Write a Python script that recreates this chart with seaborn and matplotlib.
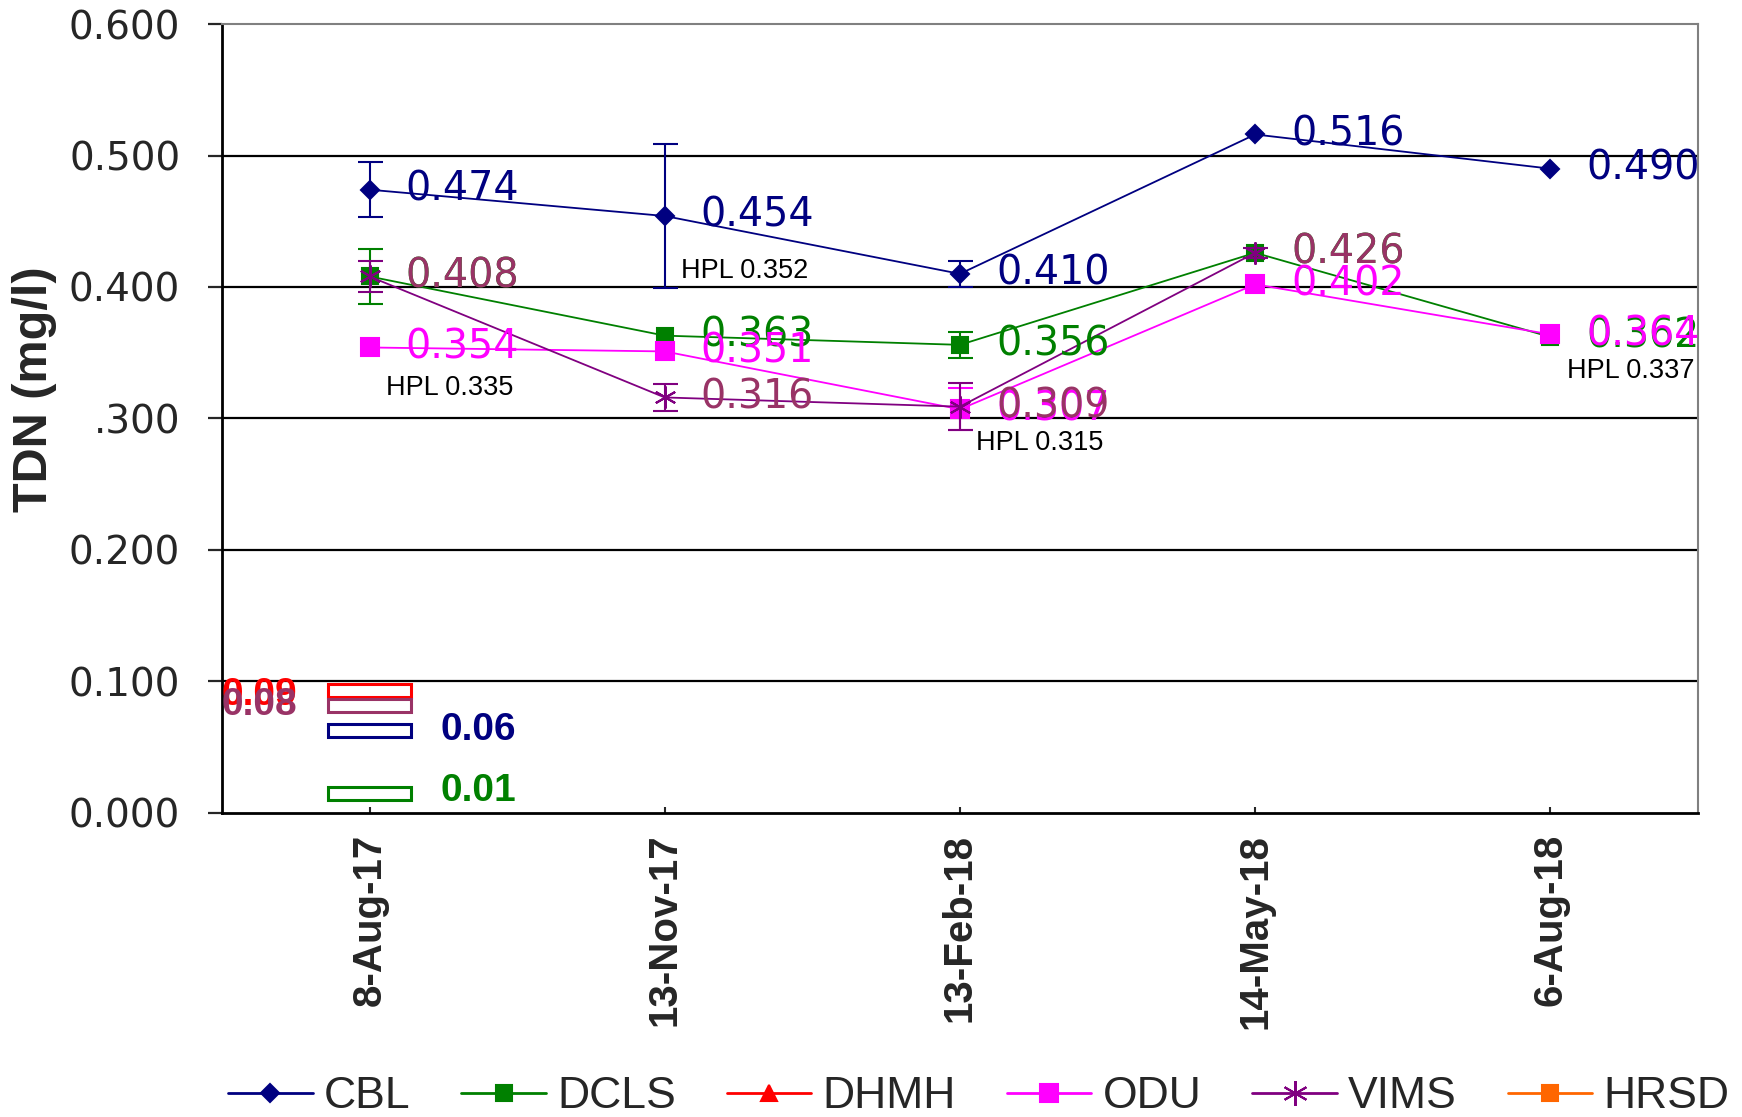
import numpy as np
import pandas as pd
import matplotlib
matplotlib.use("Agg")
import matplotlib.pyplot as plt
from matplotlib.lines import Line2D
import seaborn as sns

# dates on the x axis
dates = ["8-Aug-17", "13-Nov-17", "13-Feb-18", "14-May-18", "6-Aug-18"]

# mean TDN per lab (mg/l), nan = no sample
cbl = [0.474, 0.454, 0.410, 0.516, 0.490]
dcls = [0.408, 0.363, 0.356, 0.426, 0.362]
odu = [0.354, 0.351, 0.307, 0.402, 0.364]
vims = [0.408, 0.316, 0.309, 0.426, np.nan]

# error bar half-widths
cbl_err = [0.021, 0.055, 0.010, 0.0, 0.0]
dcls_err = [0.021, 0.0, 0.010, 0.0, 0.0]
odu_err = [0.0, 0.0, 0.016, 0.0, 0.0]
vims_err = [0.012, 0.010, 0.018, 0.004, 0.0]

# HPL notes
hpl_labels = ["HPL 0.335", "HPL 0.352", "HPL 0.315", "HPL 0.337"]
hpl_pos = [0, 1, 2, 4]
hpl_y = [0.323, 0.412, 0.281, 0.336]

# small boxes in the bottom left corner
box_labs = ["DHMH", "VIMS", "CBL", "DCLS"]
box_bottom = [0.088, 0.077, 0.058, 0.010]
box_values = [0.09, 0.08, 0.06, 0.01]

y_ticks = [0.0, 0.1, 0.2, 0.3, 0.4, 0.5, 0.6]
y_tick_labels = ["0.000", "0.100", "0.200", ".300", "0.400", "0.500", "0.600"]

colors = {"CBL": "#000080", "DCLS": "#008000", "DHMH": "#FF0000",
          "ODU": "#FF00FF", "VIMS": "#800080", "HRSD": "#FF6600"}
text_colors = {"CBL": "#000080", "DCLS": "#008000", "DHMH": "#FF0000",
               "ODU": "#FF00FF", "VIMS": "#993366"}

series = {"CBL": (cbl, cbl_err, "D", 9),
          "DCLS": (dcls, dcls_err, "s", 12),
          "ODU": (odu, odu_err, "s", 13),
          "VIMS": (vims, vims_err, (6, 2, 0), 16)}

rows = []
for lab, (vals, errs, _, _) in series.items():
    for i, v in enumerate(vals):
        rows.append({"lab": lab, "pos": i, "value": v, "err": errs[i]})
df = pd.DataFrame(rows)

sns.set_style("white")
plt.rcParams["font.family"] = ["DejaVu Sans"]

fig = plt.figure(figsize=(17.42, 11.17), dpi=100)
ax = fig.add_axes([0.1274, 0.2722, 0.8473, 0.7063])

for y in y_ticks[1:-1]:
    ax.axhline(y, color="black", lw=1.6, zorder=1)

for lab, (vals, errs, mk, ms) in series.items():
    d = df[df["lab"] == lab].dropna(subset=["value"])
    sns.lineplot(data=d, x="pos", y="value", ax=ax, color=colors[lab],
                 marker=mk, markersize=ms, markeredgecolor=colors[lab],
                 markeredgewidth=1.5, lw=1.3, zorder=3, legend=False)
    e = d[d["err"] > 0]
    ax.errorbar(e["pos"], e["value"], yerr=e["err"], fmt="none",
                ecolor=colors[lab], elinewidth=1.5, capsize=9, capthick=1.5,
                zorder=3)
    for _, r in d.iterrows():
        ax.annotate(f"{r['value']:.3f}", (r["pos"], r["value"]),
                    xytext=(26, 0), textcoords="offset points",
                    va="center", ha="left", fontsize=28.5,
                    color=text_colors[lab], zorder=4)

for txt, p, y in zip(hpl_labels, hpl_pos, hpl_y):
    ax.text(p + 0.055, y, txt, ha="left", va="center", fontsize=19.5,
            family="Liberation Sans", color="black", zorder=5)

# boxes
ax.bar([0] * len(box_bottom), [0.01] * len(box_bottom), bottom=box_bottom,
       width=0.28, fill=False,
       edgecolor=[colors[b] if b != "VIMS" else "#993366" for b in box_labs],
       linewidth=2.2, zorder=4)
box_x = [-0.5, -0.5, 0.24, 0.24]
box_dy = [-0.003, 0.0, 0.0, 0.002]
for lab, b, v, bx, dy in zip(box_labs, box_bottom, box_values, box_x, box_dy):
    ax.text(bx, b + 0.005 + dy, f"{v:.2f}", ha="left", va="center",
            fontsize=28, fontweight="bold", family="Liberation Sans",
            color=text_colors[lab], zorder=5)

ax.set_xlim(-0.5, 4.5)
ax.set_ylim(0, 0.6)
ax.set_xticks(range(len(dates)))
ax.set_xticklabels(dates, rotation=90, fontsize=29, fontweight="bold",
                   family="Liberation Sans")
ax.set_yticks(y_ticks)
ax.set_yticklabels(y_tick_labels, fontsize=28)
ax.tick_params(axis="y", direction="out", length=10, width=1.6, pad=20,
               left=True)
ax.tick_params(axis="x", direction="in", length=4, width=1.5, pad=15,
               bottom=True)
ax.set_xlabel("")
ax.set_ylabel("TDN (mg/l)", fontsize=35, fontweight="bold",
              family="Liberation Sans")
ax.yaxis.set_label_coords(-0.112, 0.537)

for s in ["left", "bottom"]:
    ax.spines[s].set_color("black")
    ax.spines[s].set_linewidth(2)
for s in ["top", "right"]:
    ax.spines[s].set_color("#808080")
    ax.spines[s].set_linewidth(1.5)

markers = {"CBL": ("D", 9), "DCLS": ("s", 12), "DHMH": ("^", 12),
           "ODU": ("s", 13), "VIMS": ((6, 2, 0), 18), "HRSD": ("s", 11)}
handles = [Line2D([], [], color=colors[k], marker=m, markersize=s, lw=2,
                  markeredgewidth=1.5) for k, (m, s) in markers.items()]
fig.legend(handles, list(markers.keys()), loc="center left",
           bbox_to_anchor=(0.131, 0.018), ncol=6, frameon=False,
           prop={"family": "Liberation Sans", "size": 32},
           borderpad=0, borderaxespad=0,
           handlelength=1.9, handletextpad=0.25, columnspacing=1.15)

fig.savefig("out.png", dpi=100)
